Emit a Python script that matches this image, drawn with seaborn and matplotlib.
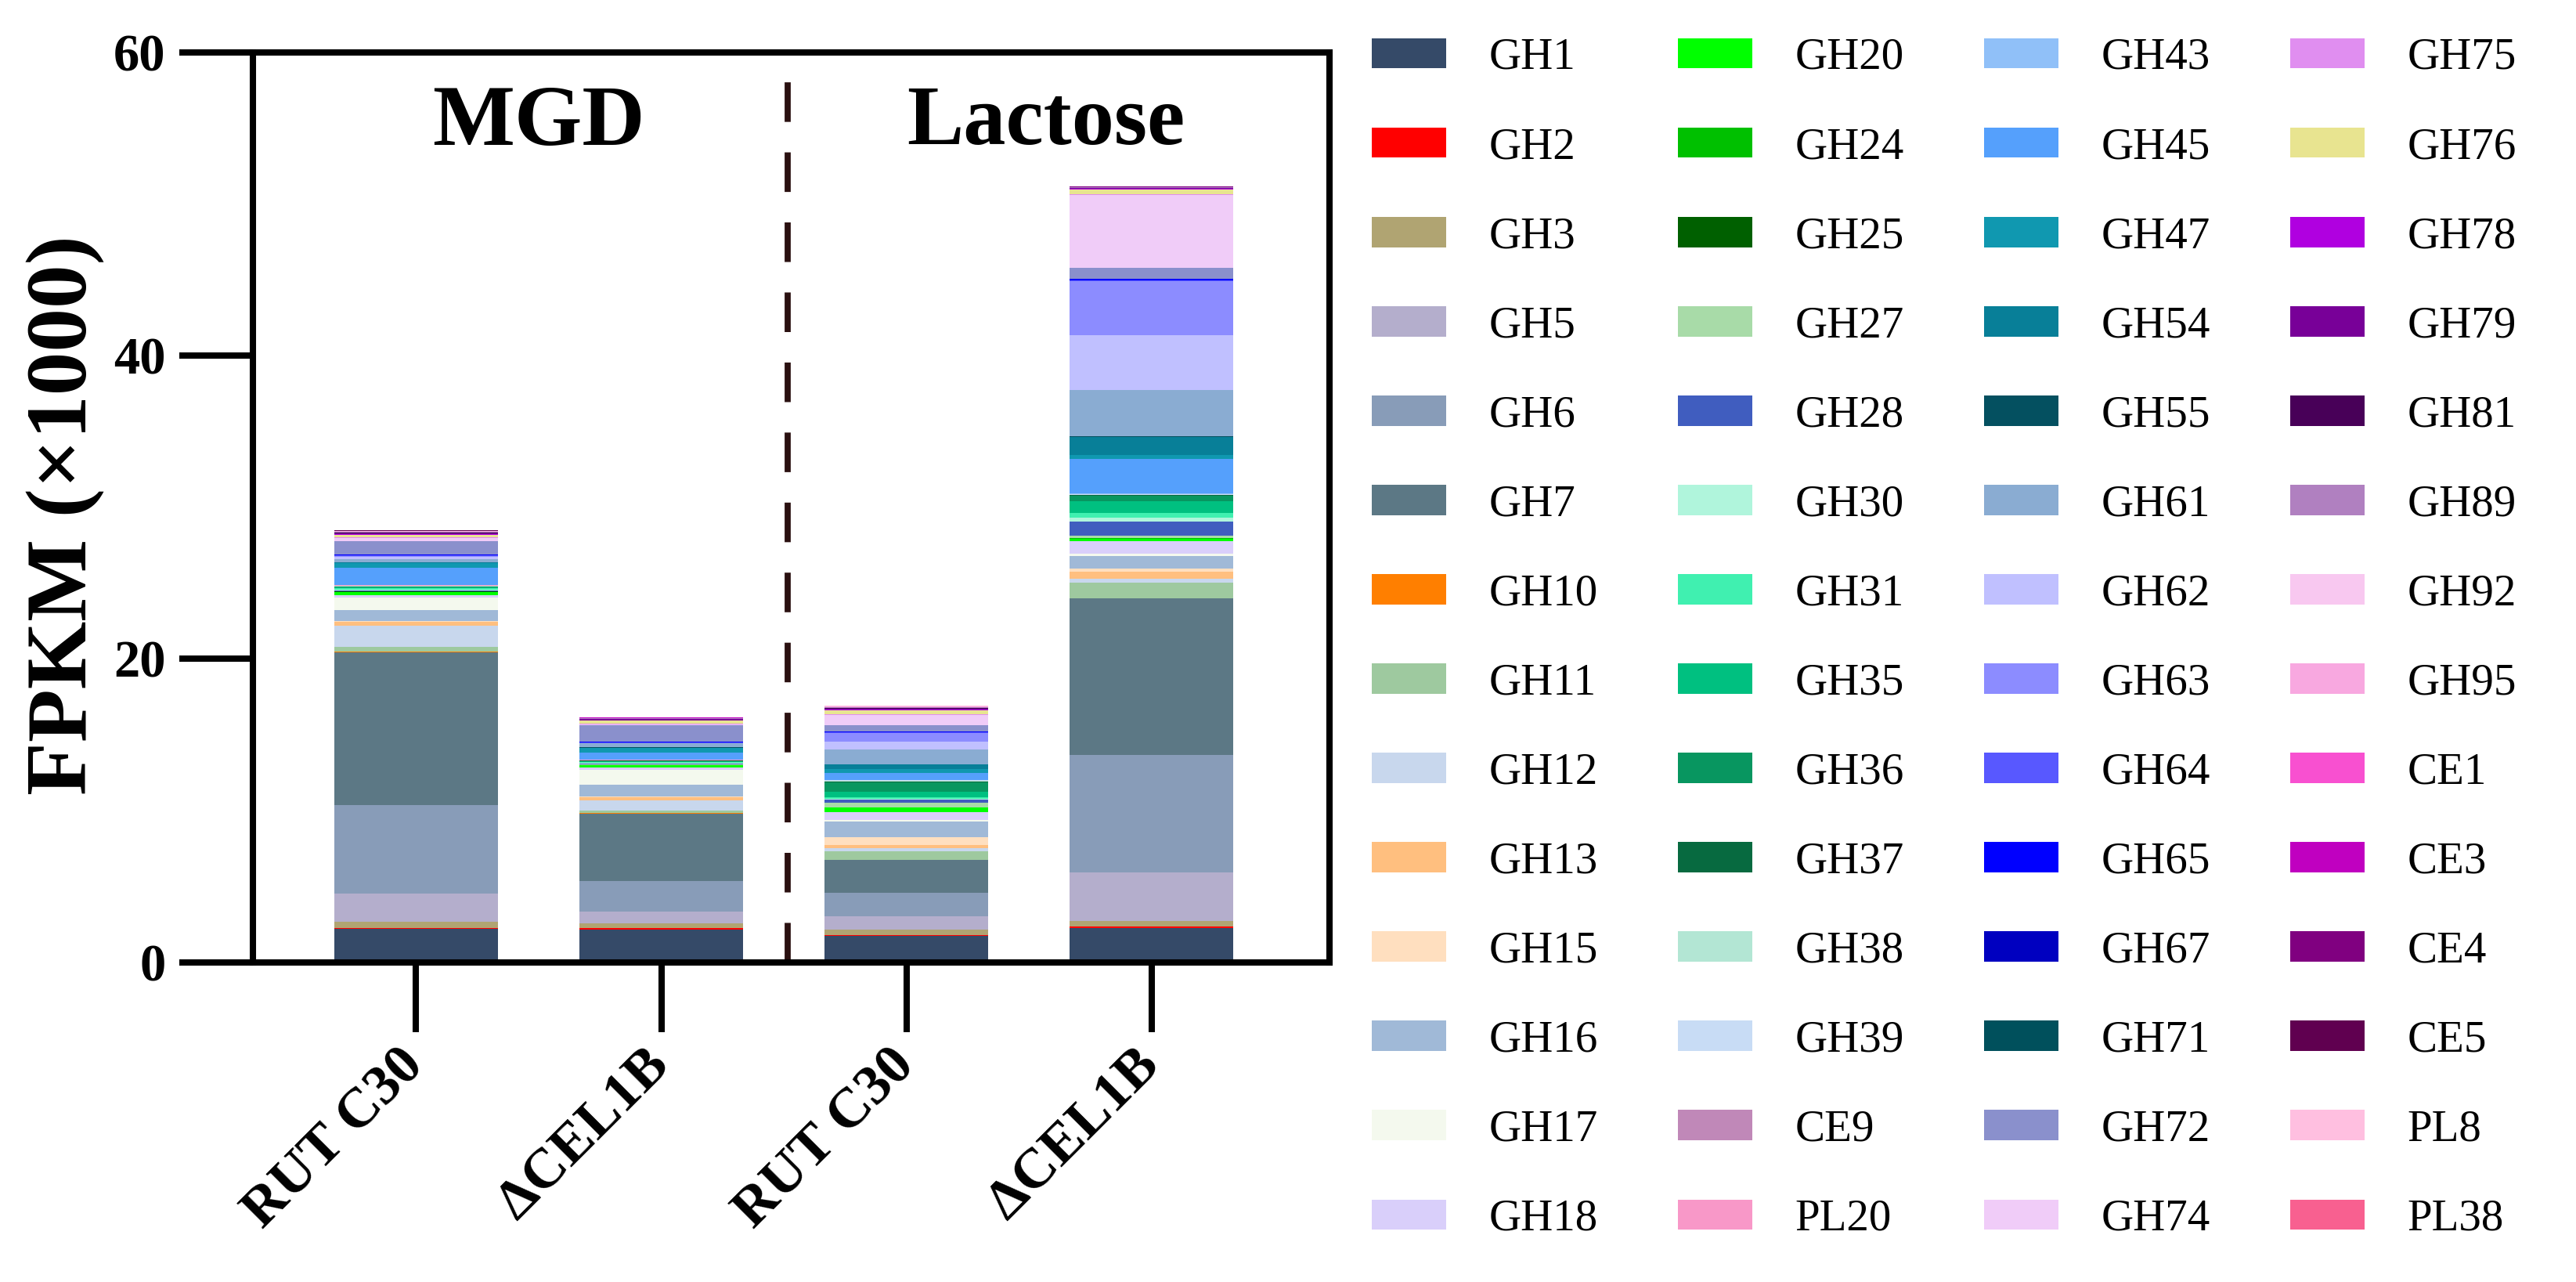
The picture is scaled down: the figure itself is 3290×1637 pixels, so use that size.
import numpy as np
import pandas as pd
import matplotlib
matplotlib.use("Agg")
import matplotlib.pyplot as plt
from matplotlib.patches import Patch
import seaborn as sns

sns.set_style("ticks")
plt.rcParams["font.family"] = ["Liberation Serif", "DejaVu Serif"]
plt.rcParams["text.color"] = "black"
plt.rcParams["xtick.color"] = "black"
plt.rcParams["ytick.color"] = "black"
plt.rcParams["axes.labelcolor"] = "black"

# CAZy families, in stacking / legend order
families = ["GH1", "GH2", "GH3", "GH5", "GH6", "GH7", "GH10", "GH11", "GH12", "GH13", "GH15", "GH16", "GH17", "GH18",
            "GH20", "GH24", "GH25", "GH27", "GH28", "GH30", "GH31", "GH35", "GH36", "GH37", "GH38", "GH39", "CE9", "PL20",
            "GH43", "GH45", "GH47", "GH54", "GH55", "GH61", "GH62", "GH63", "GH64", "GH65", "GH67", "GH71", "GH72", "GH74",
            "GH75", "GH76", "GH78", "GH79", "GH81", "GH89", "GH92", "GH95", "CE1", "CE3", "CE4", "CE5", "PL8", "PL38"]

colors = ["#354a68", "#ff0000", "#b0a472", "#b4aecc", "#889cb8", "#5c7885", "#ff7f00", "#9ec99f", "#c8d7ed", "#ffbf7f",
          "#ffdfbf", "#a0b9d7", "#f4f9ee", "#d9cffa",
          "#00ff00", "#00c000", "#006000", "#a8dba8", "#405dbf", "#b0f5dc", "#40f0b0", "#00c080", "#089660", "#076a40",
          "#b3e6d4", "#c8dcf5", "#c088b8", "#f898c8",
          "#90c0f8", "#55a0fc", "#1098b0", "#087f98", "#045060", "#8aacd2", "#c0c0ff", "#8c8cff", "#5858ff", "#0000ff",
          "#0000c0", "#00505c", "#8a90cc", "#f0ccf8",
          "#e08ef0", "#e8e490", "#b000e0", "#780098", "#480058", "#b080c0", "#f8c8f0", "#f8a8e0", "#f850d0", "#c000c0",
          "#800080", "#600050", "#ffbfe0", "#f86090"]

samples = ["MGD RUT C30", "MGD dCEL1B", "Lactose RUT C30", "Lactose dCEL1B"]
tick_labels = ["RUT C30", "ΔCEL1B", "RUT C30", "ΔCEL1B"]

# FPKM (x1000) per family
mgd_rut = [2.21, 0.06, 0.39, 1.86, 5.85, 10.06, 0.07, 0.30, 1.39, 0.26, 0.07, 0.70, 0.85, 0.14,
           0.20, 0.02, 0.01, 0.04, 0.03, 0.06, 0.10, 0.06, 0.05, 0.02, 0.02, 0.02, 0.01, 0.01,
           0.02, 1.15, 0.31, 0.02, 0.01, 0.23, 0.12, 0.08, 0.03, 0.05, 0.01, 0.01, 0.89, 0.19,
           0.07, 0.15, 0.03, 0.08, 0.02, 0.05, 0.03, 0.02, 0.01, 0.01, 0.01, 0.01, 0.01, 0.01]
mgd_del = [2.14, 0.09, 0.34, 0.76, 2.02, 4.46, 0.02, 0.15, 0.69, 0.22, 0.06, 0.75, 1.00, 0.14,
           0.15, 0.02, 0.01, 0.04, 0.03, 0.04, 0.06, 0.05, 0.04, 0.01, 0.02, 0.01, 0.01, 0.01,
           0.02, 0.46, 0.31, 0.02, 0.01, 0.26, 0.02, 0.02, 0.03, 0.05, 0.01, 0.01, 1.07, 0.07,
           0.03, 0.21, 0.02, 0.06, 0.01, 0.05, 0.02, 0.01, 0.01, 0.01, 0.01, 0.01, 0.01, 0.01]
lac_rut = [1.71, 0.09, 0.36, 0.86, 1.55, 2.19, 0.01, 0.54, 0.19, 0.22, 0.52, 1.03, 0.11, 0.50,
           0.32, 0.01, 0.01, 0.31, 0.21, 0.06, 0.09, 0.36, 0.62, 0.06, 0.04, 0.03, 0.01, 0.01,
           0.02, 0.44, 0.26, 0.31, 0.02, 0.96, 0.51, 0.57, 0.04, 0.07, 0.01, 0.01, 0.38, 0.68,
           0.04, 0.26, 0.04, 0.10, 0.03, 0.05, 0.02, 0.01, 0.01, 0.01, 0.01, 0.01, 0.01, 0.01]
lac_del = [2.24, 0.10, 0.36, 3.21, 7.77, 10.32, 0.01, 1.02, 0.24, 0.46, 0.23, 0.82, 0.14, 0.83,
           0.20, 0.01, 0.01, 0.14, 0.95, 0.26, 0.31, 0.78, 0.37, 0.04, 0.02, 0.02, 0.01, 0.01,
           0.02, 2.32, 0.22, 1.18, 0.06, 3.06, 3.62, 3.56, 0.06, 0.10, 0.01, 0.01, 0.72, 4.76,
           0.10, 0.30, 0.03, 0.06, 0.01, 0.02, 0.01, 0.01, 0.01, 0.01, 0.01, 0.01, 0.01, 0.01]

df = pd.DataFrame({
    "sample": np.repeat(samples, len(families)),
    "family": families * len(samples),
    "fpkm": mgd_rut + mgd_del + lac_rut + lac_del,
})
df["sample"] = pd.Categorical(df["sample"], categories=samples, ordered=True)

fig = plt.figure(figsize=(16.455, 8.185), dpi=200)
ax = fig.add_axes([0.0981, 0.2495, 0.4178, 0.7095])

# seaborn stacks the first hue level on top, so reverse to put GH1 at the bottom
sns.histplot(data=df, x="sample", weights="fpkm", hue="family", hue_order=families[::-1],
             multiple="stack", discrete=True, shrink=0.667, palette=dict(zip(families, colors)),
             alpha=1, linewidth=0, legend=False, ax=ax)

ax.set_xlim(-0.666, 3.725)
ax.set_ylim(0, 60)
ax.set_yticks([0, 20, 40, 60])
ax.set_xticks(range(len(samples)))
ax.set_xticklabels(tick_labels, rotation=45, ha="right", va="center", rotation_mode="anchor",
                   fontsize=26, fontweight="bold")
for lab in ax.get_yticklabels():
    lab.set_fontsize(24)
    lab.set_fontweight("bold")
ax.set_xlabel("")
ax.set_ylabel("")
for sp in ax.spines.values():
    sp.set_visible(True)
    sp.set_linewidth(2.9)
    sp.set_color("black")
ax.tick_params(axis="y", length=34, width=2.9, pad=6, color="black")
ax.tick_params(axis="x", length=32, width=2.9, pad=12, color="black")

ax.axvline(1.515, color="#2a1010", lw=2.8, linestyle=(0, (6.5, 5)))
ax.text(0.5, 55.3, "MGD", ha="center", va="center", fontsize=40, fontweight="bold")
ax.text(2.57, 55.3, "Lactose", ha="center", va="center", fontsize=39, fontweight="bold")

fig.text(84 / 3291, 1 - 658 / 1637, "FPKM (×1000)", rotation=90, ha="center", va="center",
         fontsize=40, fontweight="bold")

handles = [Patch(facecolor=c, edgecolor="none", label=f) for f, c in zip(families, colors)]
fig.legend(handles=handles, ncol=4, loc="upper left", bbox_to_anchor=(1752 / 3291, 1 - 48 / 1637),
           frameon=False, fontsize=20.5, handlelength=1.67, handleheight=0.67, handletextpad=0.95,
           columnspacing=1.8, labelspacing=1.09, borderaxespad=0, borderpad=0)

fig.savefig("out.png", dpi=200)
